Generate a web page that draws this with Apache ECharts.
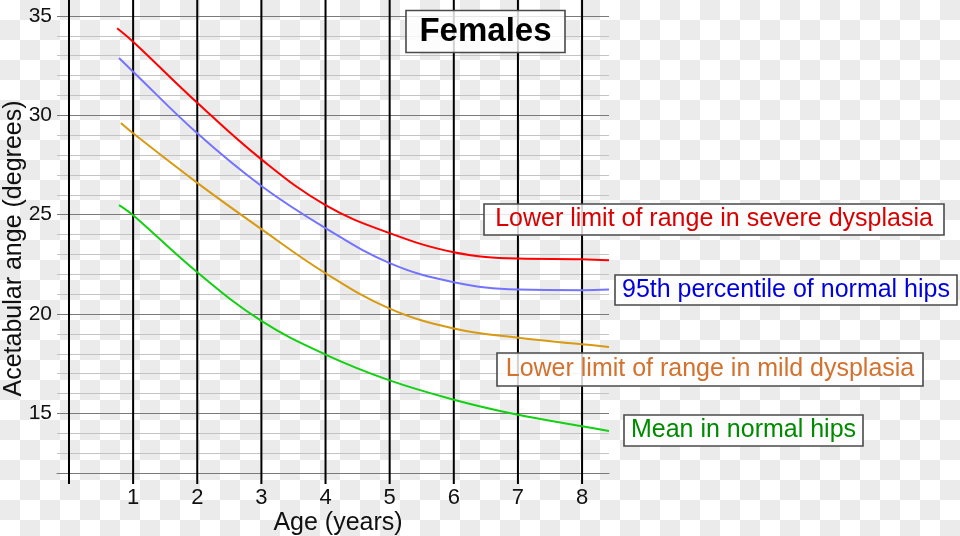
<!DOCTYPE html>
<html>
<head>
<meta charset="utf-8">
<script src="https://cdn.jsdelivr.net/npm/echarts@6/dist/echarts.min.js"></script>
<style>
html,body{margin:0;padding:0;}
#chart{width:960px;height:536px;background:repeating-conic-gradient(#ebebeb 0 25%, #ffffff 0 50%) 0 0/40px 40px;}
</style>
</head>
<body>
<div id="chart"></div>
<script>
// Age in years (x positions of the sampled points)
const severeX = [0.75, 1, 2, 3, 4, 5, 6, 7, 8, 8.42];
const severeY = [34.38, 33.7, 30.63, 27.78, 25.48, 24.07, 23.11, 22.79, 22.76, 22.71];

const p95X = [0.78, 1, 2, 3, 4, 5, 6, 7, 8, 8.42];
const p95Y = [32.88, 32.19, 29.09, 26.44, 24.32, 22.56, 21.6, 21.23, 21.2, 21.23];

const mildX = [0.81, 1, 2, 3, 4, 5, 6, 7, 8, 8.42];
const mildY = [29.61, 29.09, 26.6, 24.27, 22.05, 20.27, 19.27, 18.8, 18.48, 18.34];

const meanX = [0.78, 1, 2, 3, 4, 5, 6, 7, 8, 8.42];
const meanY = [25.48, 24.97, 22.1, 19.65, 17.96, 16.66, 15.69, 14.93, 14.35, 14.11];

const seriesNames = [
  'Lower limit of range in severe dysplasia',
  '95th percentile of normal hips',
  'Lower limit of range in mild dysplasia',
  'Mean in normal hips'
];
const xTickValues = [0, 1, 2, 3, 4, 5, 6, 7, 8];
const xLabelValues = [1, 2, 3, 4, 5, 6, 7, 8];
const yLabelValues = [15, 20, 25, 30, 35];
const titleText = 'Females';
const xName = 'Age (years)';
const yName = 'Acetabular ange (degrees)';

const yMin = 12, yMax = 36;
const lineColors = ['#ff0000', '#7373ff', '#d89a12', '#12d012'];
const labelColors = ['#d80000', '#0000dd', '#d2722e', '#008a00'];

function pairs(xs, ys) { return xs.map((x, i) => [x, ys[i]]); }

const chart = echarts.init(document.getElementById('chart'), null, {renderer: 'canvas'});

const gridColors = [];
for (let v = yMin; v < yMin + 5; v++) gridColors.push(v % 5 === 0 ? '#7a7a7a' : '#c4c4c4');

const FONT = 'Liberation Sans, Arial, sans-serif';

function box(cx, cy, w, h, text, color, opts) {
  opts = opts || {};
  return {
    type: 'group',
    children: [
      {type: 'rect', shape: {x: cx - w / 2, y: cy - h / 2, width: w, height: h},
       style: {fill: 'rgba(255,255,255,0.82)', stroke: '#4a4a4a', lineWidth: 1.6}, z: 10},
      {type: 'text', x: cx, y: cy + (opts.dy || 0),
       style: {text: text, fill: color, font: (opts.bold ? 'bold ' : '') + (opts.size || 25) + 'px ' + FONT,
               textAlign: 'center', textVerticalAlign: 'middle'}, z: 11}
    ]
  };
}

const option = {
  backgroundColor: 'transparent',
  animation: false,
  grid: {left: 57, right: 351, top: -4, bottom: 63, containLabel: false, outerBoundsMode: 'none'},
  xAxis: {
    type: 'value', min: -0.187, max: 8.42,
    axisLine: {show: true, lineStyle: {color: '#7a7a7a', width: 1}},
    axisTick: {show: false},
    splitLine: {show: false},
    axisLabel: {customValues: xLabelValues, fontSize: 22, color: '#111', margin: 14, fontFamily: FONT},
    name: xName, nameLocation: 'middle', nameGap: 38, nameMoveOverlap: false,
    nameTextStyle: {fontSize: 25, color: '#111', fontFamily: FONT, padding: [0, 0, 0, 10]}
  },
  yAxis: {
    type: 'value', min: yMin, max: yMax, interval: 1,
    axisLine: {show: false},
    axisTick: {show: false},
    splitLine: {show: true, lineStyle: {color: gridColors, width: 1}},
    axisLabel: {formatter: v => (yLabelValues.indexOf(v) >= 0 ? String(v) : ''), fontSize: 21, color: '#111', margin: 5, fontFamily: FONT},
    name: yName, nameLocation: 'middle', nameGap: 30, nameRotate: 90, nameMoveOverlap: false,
    nameTextStyle: {fontSize: 25, color: '#111', fontFamily: FONT, padding: [0, 28, 0, 0]}
  },
  series: [
    {
      type: 'custom', name: 'vlines', silent: true, clip: false, z: 3,
      data: xTickValues.map(v => [v, yMax]),
      encode: {x: 0, y: 1},
      renderItem: function (params, api) {
        const x = api.value(0);
        const top = api.coord([x, yMax]);
        const bot = api.coord([x, yMin]);
        return {type: 'line', shape: {x1: top[0], y1: top[1], x2: bot[0], y2: bot[1] + 11},
                style: {stroke: '#000', lineWidth: 2}};
      }
    },
    {type: 'line', name: seriesNames[0], data: pairs(severeX, severeY), smooth: 0.4, showSymbol: false, z: 5,
     lineStyle: {color: lineColors[0], width: 2}, itemStyle: {color: lineColors[0]}},
    {type: 'line', name: seriesNames[1], data: pairs(p95X, p95Y), smooth: 0.4, showSymbol: false, z: 5,
     lineStyle: {color: lineColors[1], width: 2}, itemStyle: {color: lineColors[1]}},
    {type: 'line', name: seriesNames[2], data: pairs(mildX, mildY), smooth: 0.4, showSymbol: false, z: 5,
     lineStyle: {color: lineColors[2], width: 2}, itemStyle: {color: lineColors[2]}},
    {type: 'line', name: seriesNames[3], data: pairs(meanX, meanY), smooth: 0.4, showSymbol: false, z: 5,
     lineStyle: {color: lineColors[3], width: 2}, itemStyle: {color: lineColors[3]}}
  ],
  graphic: [
    box(485.5, 31.5, 159, 42, titleText, '#000', {bold: true, size: 33}),
    box(714, 219.5, 460, 31, seriesNames[0], labelColors[0]),
    box(786, 290, 342, 30, seriesNames[1], labelColors[1]),
    box(710, 369.5, 426, 33, seriesNames[2], labelColors[2]),
    box(743.5, 430.5, 239, 31, seriesNames[3], labelColors[3])
  ]
};
chart.setOption(option);
</script>
</body>
</html>
